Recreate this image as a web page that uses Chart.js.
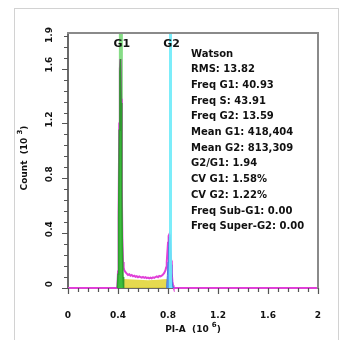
<!DOCTYPE html>
<html><head><meta charset="utf-8">
<script src="https://cdn.jsdelivr.net/npm/chart.js@4.4.1/dist/chart.umd.min.js"></script>
<style>html,body{margin:0;padding:0;background:#fff;}#wrap{width:342px;height:340px;position:relative}</style>
</head><body><div id="wrap"><canvas id="c" width="342" height="340"></canvas></div>
<script>
// Total DNA histogram (PI-A in 10^6, Count in 10^3)
const histX = [0,0.39,0.395,0.40,0.405,0.41,0.415,0.42,0.425,0.43,0.435,0.44,0.445,
  0.45,0.46,0.47,0.48,0.49,0.50,0.51,0.52,0.53,0.54,0.55,0.56,0.57,0.58,0.59,0.60,0.61,0.62,0.63,0.64,0.65,0.66,0.67,0.68,0.69,0.70,0.71,0.72,0.73,0.74,0.75,0.76,0.77,0.78,
  0.785,0.79,0.795,0.80,0.805,0.81,0.815,0.82,0.825,0.83,0.835,0.84,0.845,0.85,2];
const histY = [0,0,0.01,0.12,0.55,1.2,1.6,1.67,1.38,0.78,0.36,0.19,0.15,
  0.13,0.115,0.105,0.095,0.1,0.09,0.095,0.085,0.09,0.082,0.086,0.078,0.084,0.08,0.075,0.08,0.074,0.079,0.072,0.076,0.07,0.075,0.071,0.078,0.074,0.08,0.084,0.079,0.088,0.085,0.09,0.098,0.11,0.13,
  0.15,0.19,0.26,0.33,0.38,0.39,0.36,0.29,0.2,0.11,0.05,0.02,0.005,0,0];
// Watson model components
const g1X = [0.395,0.40,0.405,0.41,0.415,0.42,0.425,0.43,0.435,0.44,0.445];
const g1Y = [0,0.1,0.5,1.15,1.58,1.67,1.35,0.72,0.3,0.08,0];
const sX = [0.41,0.42,0.44,0.48,0.52,0.56,0.60,0.64,0.68,0.72,0.76,0.80,0.82,0.83];
const sY = [0,0.06,0.065,0.064,0.062,0.06,0.058,0.057,0.058,0.06,0.063,0.066,0.06,0];
const g2X = [0.785,0.79,0.795,0.80,0.805,0.81,0.815,0.82,0.825,0.83,0.835,0.84,0.845];
const g2Y = [0,0.03,0.09,0.19,0.3,0.37,0.35,0.27,0.17,0.08,0.03,0.008,0];
// Gate markers
const markerNames = ['G1','G2'];
const markerX = [0.423,0.82];
// Stats text
const statsLines = ['Watson','RMS: 13.82','Freq G1: 40.93','Freq S: 43.91','Freq G2: 13.59',
  'Mean G1: 418,404','Mean G2: 813,309','G2/G1: 1.94','CV G1: 1.58%','CV G2: 1.22%',
  'Freq Sub-G1: 0.00','Freq Super-G2: 0.00'];
// Axes
const xTickValues = [0,0.4,0.8,1.2,1.6,2];
const xTickLabels = ['0','0.4','0.8','1.2','1.6','2'];
const yTickValues = [0,0.4,0.8,1.2,1.6,1.86];
const yTickLabels = ['0','0.4','0.8','1.2','1.6','1.9'];
const xMax = 2, yMax = 1.86, minorStep = 0.08;

const pts = (xs, ys) => xs.map((x,i)=>({x, y: ys[i]}));
const yTop = yMax;

const FONT = '"DejaVu Sans", sans-serif';

const deco = {
  id:'deco',
  beforeDraw(chart){
    const c=chart.ctx; c.save();
    c.fillStyle='#fff'; c.fillRect(0,0,chart.width,chart.height);
    c.strokeStyle='#d2d2d2'; c.lineWidth=1;
    c.strokeRect(14.5,8.5,324,350);
    c.restore();
  },
  afterDraw(chart){
    const c=chart.ctx, a=chart.chartArea, xs=chart.scales.x, ys=chart.scales.y;
    c.save();
    // frame top/right
    c.strokeStyle='#8a8a8a'; c.lineWidth=2;
    c.beginPath(); c.moveTo(a.left-1,a.top); c.lineTo(a.right,a.top); c.lineTo(a.right,a.bottom+1); c.stroke();
    // ticks
    c.strokeStyle='#555'; c.lineWidth=1.2;
    c.beginPath();
    for(let v=0; v<=xMax+1e-6; v+=minorStep){
      const major = xTickValues.some(t=>Math.abs(t-v)<1e-6);
      const px = Math.round(xs.getPixelForValue(v))+0.5;
      c.moveTo(px,a.bottom); c.lineTo(px,a.bottom+(major?6:4));
    }
    for(let v=0; v<=yMax+1e-6; v+=minorStep){
      const major = yTickValues.some(t=>Math.abs(t-v)<1e-6);
      const py = Math.round(ys.getPixelForValue(v))+0.5;
      c.moveTo(a.left,py); c.lineTo(a.left-(major?6:4),py);
    }
    c.stroke();
    // y tick labels (rotated)
    c.fillStyle='#111'; c.font='bold 9px '+FONT; c.textAlign='center'; c.textBaseline='middle';
    yTickValues.forEach((v,i)=>{
      let py = ys.getPixelForValue(v)-4;
      if (py < a.top+2) py = a.top+2;
      c.save(); c.translate(50,py); c.rotate(-Math.PI/2); c.fillText(yTickLabels[i],0,0); c.restore();
    });
    // axis titles
    const drawTitle = (main, sup, tail) => {
      c.font='bold 9px '+FONT;
      const w1=c.measureText(main).width;
      c.font='bold 7px '+FONT; const w2=c.measureText(sup).width;
      c.font='bold 9px '+FONT; const w3=c.measureText(tail).width;
      const tot=w1+w2+w3; let x=-tot/2;
      c.textAlign='left'; c.textBaseline='middle';
      c.fillText(main,x,0); x+=w1;
      c.font='bold 7px '+FONT; c.fillText(sup,x,-5); x+=w2;
      c.font='bold 9px '+FONT; c.fillText(tail,x,0);
    };
    c.save(); c.translate(25,158); c.rotate(-Math.PI/2); drawTitle('Count  (10 ','3',')'); c.restore();
    c.save(); c.translate((a.left+a.right)/2,330); drawTitle('PI-A  (10 ','6',')'); c.restore();
    // marker labels
    c.font='bold 11px '+FONT; c.textAlign='center'; c.textBaseline='middle'; c.fillStyle='#111';
    markerNames.forEach((n,i)=>{ c.fillText(n, xs.getPixelForValue(markerX[i])+1, 44); });
    // stats
    c.font='bold 10px '+FONT; c.textAlign='left';
    statsLines.forEach((s,i)=>{ c.fillText(s, 191, 54+i*15.7); });
    c.restore();
  }
};

new Chart(document.getElementById('c'), {
  type:'line',
  data:{ datasets:[
    {label:'G1 marker', data:[{x:markerX[0],y:0},{x:markerX[0],y:yTop}], borderColor:'#86dc86', borderWidth:4, pointRadius:0, order:10},
    {label:'Total', data:pts(histX,histY), borderColor:'#e040d8', borderWidth:2, pointRadius:0, fill:false, order:6, clip:4},
    {label:'S', data:pts(sX,sY), borderColor:'rgba(0,0,0,0)', borderWidth:0, backgroundColor:'rgba(226,214,60,0.9)', pointRadius:0, fill:'origin', order:5},
    {label:'G1', data:pts(g1X,g1Y), borderColor:'#2f9a2f', borderWidth:1.5, backgroundColor:'#3cbf3c', pointRadius:0, fill:'origin', order:4},
    {label:'G2', data:pts(g2X,g2Y), borderColor:'#4a78e0', borderWidth:1, backgroundColor:'#5aa0f0', pointRadius:0, fill:'origin', order:3},
    {label:'G2 marker', data:[{x:markerX[1],y:0},{x:markerX[1],y:yTop}], borderColor:'rgba(110,235,250,0.9)', borderWidth:3, pointRadius:0, order:2}
  ]},
  options:{
    responsive:false, animation:false, devicePixelRatio:1,
    layout:{padding:{left:14,top:33,right:24,bottom:0}},
    plugins:{legend:{display:false}, tooltip:{enabled:false}},
    elements:{line:{tension:0}},
    scales:{
      x:{type:'linear', min:0, max:xMax,
        grid:{display:false}, border:{display:true, color:'#6a6a6a', width:2},
        afterBuildTicks:(s)=>{ s.ticks = xTickValues.map(v=>({value:v})); },
        afterFit:(s)=>{ s.height = 52; },
        ticks:{ padding:14, maxRotation:0, color:'#111', font:{family:FONT, size:9, weight:'bold'},
          callback:(v,i)=>xTickLabels[i] }
      },
      y:{type:'linear', min:0, max:yMax,
        grid:{display:false}, border:{display:true, color:'#6a6a6a', width:2},
        afterBuildTicks:(s)=>{ s.ticks = yTickValues.map(v=>({value:v})); },
        afterFit:(s)=>{ s.width = 54; },
        ticks:{display:false}
      }
    }
  },
  plugins:[deco]
});
</script></body></html>
